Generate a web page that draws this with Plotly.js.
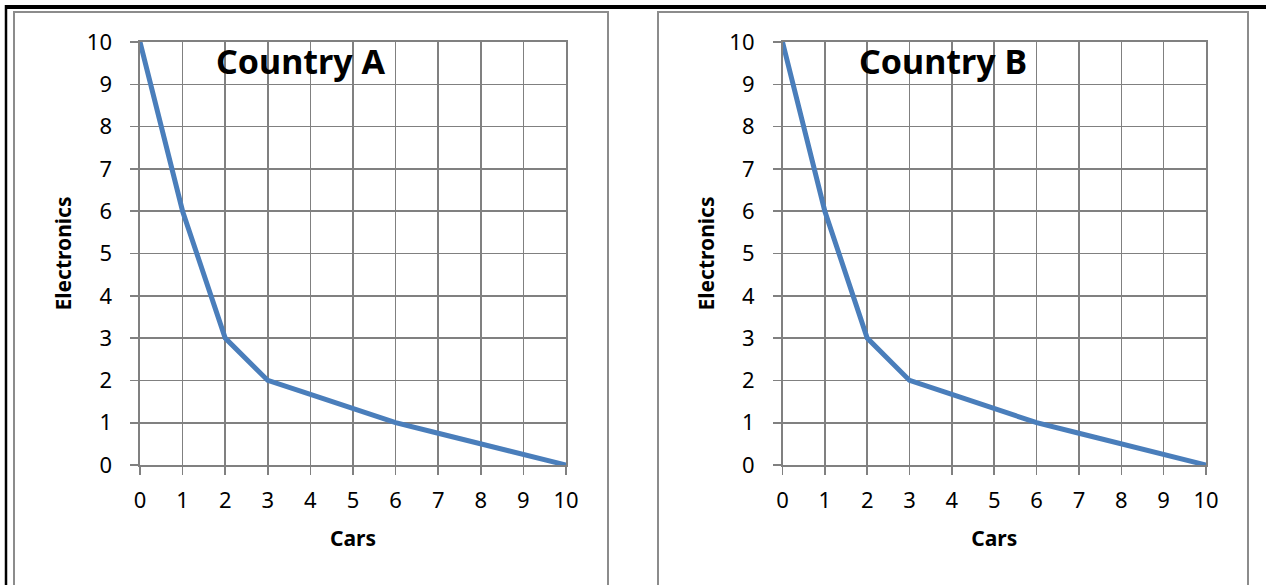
<!DOCTYPE html>
<html>
<head>
<meta charset="utf-8">
<script src="https://cdn.plot.ly/plotly-3.0.1.min.js"></script>
<style>
html,body{margin:0;padding:0;background:#fff;}
#chart{width:1266px;height:585px;}
</style>
</head>
<body>
<div id="chart"></div>
<script>
// Data
const cars = [0, 1, 2, 3, 4, 5, 6, 7, 8, 9, 10];
const electronicsA = [10, 6, 3, 2, 1.67, 1.35, 1, 0.75, 0.5, 0.25, 0];
const electronicsB = [10, 6, 3, 2, 1.67, 1.35, 1, 0.75, 0.5, 0.25, 0];
const chartTitles = ["Country A", "Country B"];
const xTitle = "Cars";
const yTitle = "Electronics";
const tickVals = [0, 1, 2, 3, 4, 5, 6, 7, 8, 9, 10];

const W = 1266, H = 585;
const px = v => v / W;
const py = v => 1 - v / H;

const FONT = "Noto Sans, DejaVu Sans, sans-serif";
const GRID = "#808080";
const LINE = "#4a7ebb";

const traces = [
  {x: cars, y: electronicsA, type: "scatter", mode: "lines", xaxis: "x", yaxis: "y",
   line: {color: LINE, width: 5}, hoverinfo: "skip"},
  {x: cars, y: electronicsB, type: "scatter", mode: "lines", xaxis: "x2", yaxis: "y2",
   line: {color: LINE, width: 5}, hoverinfo: "skip"}
];

function xAx(domain, anchor) {
  return {
    domain: domain, anchor: anchor, range: [0, 10], tickvals: tickVals, ticktext: tickVals.map(String),
    showgrid: true, gridcolor: GRID, gridwidth: 1.6, zeroline: false,
    showline: true, mirror: true, linecolor: GRID, linewidth: 1.6,
    ticks: "outside", ticklen: 8, tickwidth: 1.6, tickcolor: GRID,
    ticklabelstandoff: 7,
    tickfont: {family: FONT, size: 22, color: "#000"},
    title: {text: "<b>" + xTitle + "</b>", font: {family: FONT, size: 21, color: "#000"}, standoff: 18},
    fixedrange: true
  };
}
function yAx(domain, anchor) {
  return {
    domain: domain, anchor: anchor, range: [0, 10], tickvals: tickVals, ticktext: tickVals.map(String),
    showgrid: true, gridcolor: GRID, gridwidth: 1.6, zeroline: false,
    showline: true, mirror: true, linecolor: GRID, linewidth: 1.6,
    ticks: "outside", ticklen: 8, tickwidth: 1.6, tickcolor: GRID,
    ticklabelstandoff: 14,
    tickfont: {family: FONT, size: 22, color: "#000"},
    title: {text: "<b>" + yTitle + "</b>", font: {family: FONT, size: 21, color: "#000"}, standoff: 9},
    fixedrange: true
  };
}

const yDom = [py(465), py(42)];

const layout = {
  width: W, height: H,
  margin: {l: 0, r: 0, t: 0, b: 0},
  paper_bgcolor: "#fff", plot_bgcolor: "#fff",
  showlegend: false,
  xaxis: xAx([px(140), px(566)], "y"),
  yaxis: yAx(yDom, "x"),
  xaxis2: xAx([px(782.5), px(1206)], "y2"),
  yaxis2: yAx(yDom, "x2"),
  annotations: [
    {text: "<b>" + chartTitles[0] + "</b>", xref: "paper", yref: "paper", x: px(300), y: py(61),
     xanchor: "center", yanchor: "middle", showarrow: false, font: {family: FONT, size: 34, color: "#000"}},
    {text: "<b>" + chartTitles[1] + "</b>", xref: "paper", yref: "paper", x: px(943), y: py(61),
     xanchor: "center", yanchor: "middle", showarrow: false, font: {family: FONT, size: 34, color: "#000"}}
  ],
  shapes: [
    // outer black frame (top and left)
    {type: "line", xref: "paper", yref: "paper", x0: px(5), x1: 1, y0: py(7), y1: py(7), line: {color: "#000", width: 4}},
    {type: "line", xref: "paper", yref: "paper", x0: px(6), x1: px(6), y0: py(5), y1: py(600), line: {color: "#000", width: 2.5}},
    // chart boxes
    {type: "rect", xref: "paper", yref: "paper", x0: px(14), x1: px(608), y0: py(12), y1: py(600), line: {color: "#8c8c8c", width: 2}},
    {type: "rect", xref: "paper", yref: "paper", x0: px(658), x1: px(1248), y0: py(12), y1: py(600), line: {color: "#8c8c8c", width: 2}}
  ]
};

Plotly.newPlot("chart", traces, layout, {staticPlot: true, displayModeBar: false});
</script>
</body>
</html>
